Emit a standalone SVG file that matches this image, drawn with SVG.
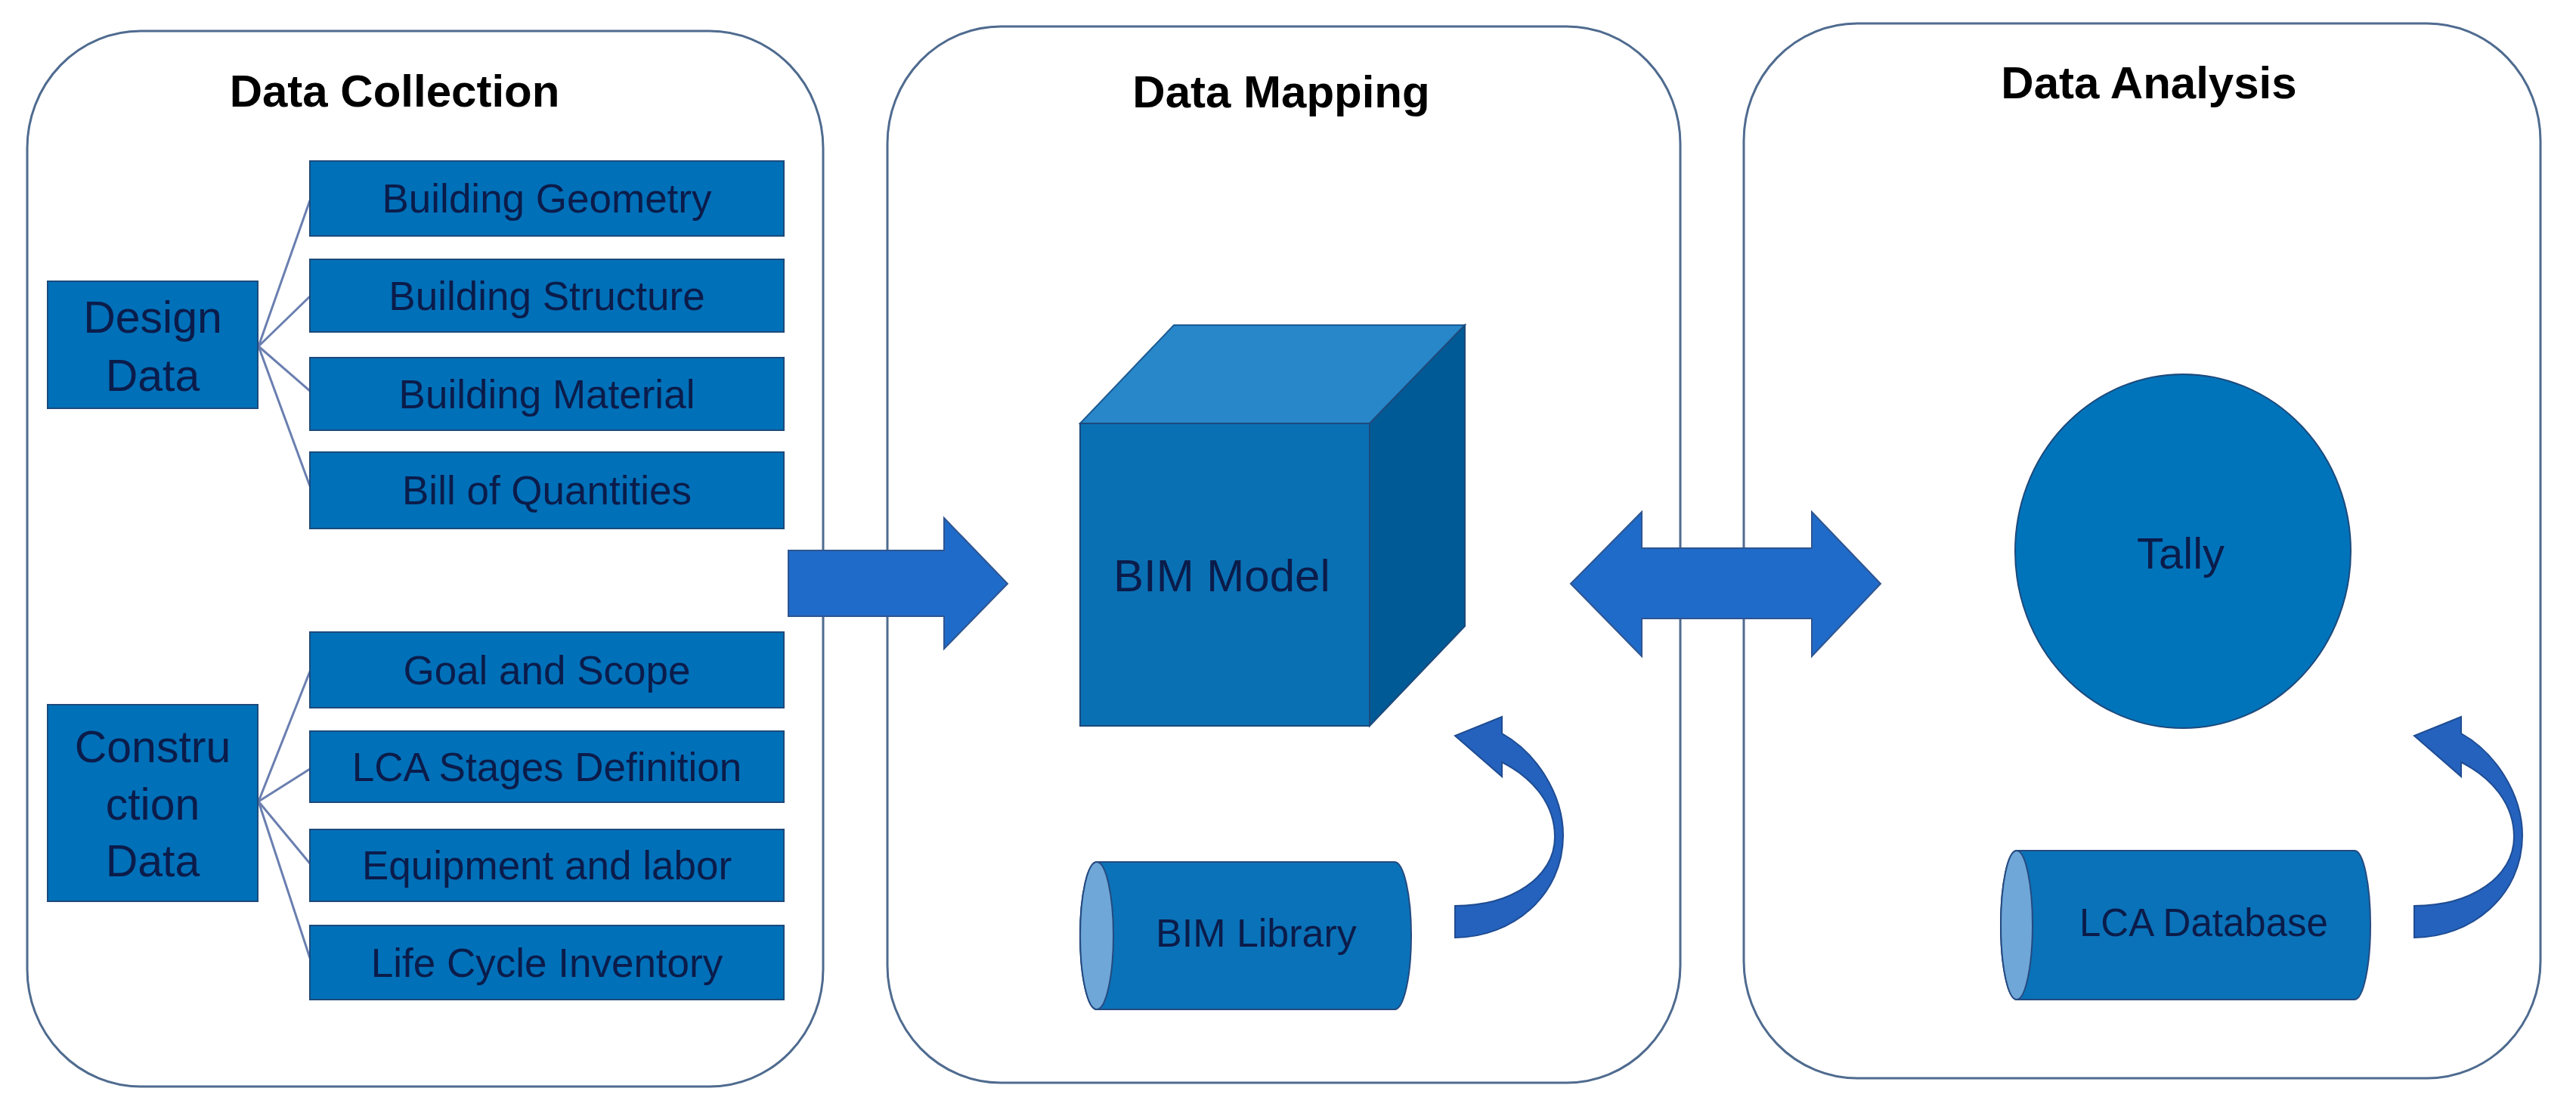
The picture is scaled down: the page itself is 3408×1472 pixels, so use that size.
<svg xmlns="http://www.w3.org/2000/svg" width="3408" height="1472" viewBox="0 0 3408 1472">
<style>
.panel{fill:#ffffff;stroke:#4f6b8f;stroke-width:3}
.title{font-family:"Liberation Sans",Arial,sans-serif;font-weight:bold;font-size:60px;fill:#000000;text-anchor:middle}
.box{fill:#0070b8;stroke:#1d4a7c;stroke-width:2}
.lbl{font-family:"Liberation Sans",Arial,sans-serif;font-size:53px;fill:#0b1c4a;text-anchor:middle}
.big{font-family:"Liberation Sans",Arial,sans-serif;font-size:59px;fill:#0b1c4a;text-anchor:middle}
.link{stroke:#6a7fb0;stroke-width:3;fill:none}
.arrow{fill:#1f6bc9;stroke:#2f5590;stroke-width:2}
.curve{fill:#2462bd;stroke:#1f4c92;stroke-width:2}
.cyl{fill:#0a72b8;stroke:#254a80;stroke-width:2}
.cylface{fill:#6ea7d8;stroke:#254a80;stroke-width:2}
</style>
<rect width="3408" height="1472" fill="#ffffff"/>

<g id="panel-collection">
<rect class="panel" x="36" y="41" width="1053" height="1396" rx="150" ry="155"/>
<text class="title" x="522" y="141">Data Collection</text>
</g>
<g id="panel-mapping">
<rect class="panel" x="1174" y="35" width="1049" height="1397" rx="150" ry="155"/>
<text class="title" x="1695" y="142">Data Mapping</text>
</g>
<g id="panel-analysis">
<rect class="panel" x="2307" y="31" width="1054" height="1395" rx="150" ry="155"/>
<text class="title" x="2843" y="130">Data Analysis</text>
</g>

<g id="connectors">
<line class="link" x1="342" y1="458" x2="410" y2="265"/>
<line class="link" x1="342" y1="458" x2="410" y2="392"/>
<line class="link" x1="342" y1="458" x2="410" y2="517"/>
<line class="link" x1="342" y1="458" x2="410" y2="643"/>
<line class="link" x1="342" y1="1060" x2="410" y2="888"/>
<line class="link" x1="342" y1="1060" x2="410" y2="1017"/>
<line class="link" x1="342" y1="1060" x2="410" y2="1142"/>
<line class="link" x1="342" y1="1060" x2="410" y2="1267"/>
<polygon id="arrow-collect-map" class="arrow" points="1043,728 1249,728 1249,685 1333,772 1249,858 1249,815 1043,815"/>
<polygon id="arrow-map-analysis" class="arrow" points="2078,772 2172,677 2172,725 2397,725 2397,677 2488,772 2397,868 2397,818 2172,818 2172,868"/>
<path id="curve-library-model" class="curve" d="M1925,1240 C2000,1240 2068,1185 2068,1105 C2068,1050 2032,995 1987,970 L1987,948 L1925,973 L1987,1027 L1987,1008 C2030,1030 2057,1065 2057,1107 C2057,1160 2000,1198 1925,1198 Z"/>
<path id="curve-db-tally" class="curve" transform="translate(1269,0)" d="M1925,1240 C2000,1240 2068,1185 2068,1105 C2068,1050 2032,995 1987,970 L1987,948 L1925,973 L1987,1027 L1987,1008 C2030,1030 2057,1065 2057,1107 C2057,1160 2000,1198 1925,1198 Z"/>
</g>

<g id="design-data">
<rect class="box" x="63" y="372" width="278" height="168"/>
<text class="big" x="202" y="440">Design</text>
<text class="big" x="202" y="517">Data</text>
</g>
<g id="building-geometry">
<rect class="box" x="410" y="213" width="627" height="99"/>
<text class="lbl" x="723.5" y="281">Building Geometry</text>
</g>
<g id="building-structure">
<rect class="box" x="410" y="343" width="627" height="96"/>
<text class="lbl" x="723.5" y="410">Building Structure</text>
</g>
<g id="building-material">
<rect class="box" x="410" y="473" width="627" height="96"/>
<text class="lbl" x="723.5" y="540">Building Material</text>
</g>
<g id="bill-of-quantities">
<rect class="box" x="410" y="598" width="627" height="101"/>
<text class="lbl" x="723.5" y="667">Bill of Quantities</text>
</g>

<g id="construction-data">
<rect class="box" x="63" y="932" width="278" height="260"/>
<text class="big" x="202" y="1008">Constru</text>
<text class="big" x="202" y="1084">ction</text>
<text class="big" x="202" y="1159">Data</text>
</g>
<g id="goal-and-scope">
<rect class="box" x="410" y="836" width="627" height="100"/>
<text class="lbl" x="723.5" y="905">Goal and Scope</text>
</g>
<g id="lca-stages">
<rect class="box" x="410" y="967" width="627" height="94"/>
<text class="lbl" x="723.5" y="1033">LCA Stages Definition</text>
</g>
<g id="equipment-labor">
<rect class="box" x="410" y="1097" width="627" height="95"/>
<text class="lbl" x="723.5" y="1163">Equipment and labor</text>
</g>
<g id="life-cycle-inventory">
<rect class="box" x="410" y="1224" width="627" height="98"/>
<text class="lbl" x="723.5" y="1292">Life Cycle Inventory</text>
</g>

<g id="bim-model">
<polygon points="1429,560 1553,430 1938,430 1812,560" fill="#2887c8" stroke="#1d5a94" stroke-width="2"/>
<polygon points="1812,560 1938,430 1938,828 1812,960" fill="#005a96" stroke="#1d4a7c" stroke-width="2"/>
<rect x="1429" y="560" width="383" height="400" fill="#0a70b4" stroke="#1d4a7c" stroke-width="2"/>
<text x="1473" y="782" font-family="'Liberation Sans',Arial,sans-serif" font-size="60" fill="#0b1c4a">BIM Model</text>
</g>

<g id="bim-library">
<path class="cyl" d="M1451,1140 L1845,1140 A22,97.5 0 0 1 1845,1335 L1451,1335 A22,97.5 0 0 1 1451,1140 Z"/>
<ellipse class="cylface" cx="1451" cy="1237.5" rx="22" ry="97.5"/>
<text x="1529" y="1252" font-family="'Liberation Sans',Arial,sans-serif" font-size="52" fill="#0b1c4a">BIM Library</text>
</g>

<g id="tally">
<ellipse cx="2888" cy="729" rx="222" ry="234" fill="#0074bb" stroke="#1d4a7c" stroke-width="2"/>
<text x="2885" y="752" font-family="'Liberation Sans',Arial,sans-serif" font-size="58" fill="#0b1c4a" text-anchor="middle">Tally</text>
</g>

<g id="lca-database">
<path class="cyl" d="M2668,1125 L3115,1125 A21,98.5 0 0 1 3115,1322 L2668,1322 A21,98.5 0 0 1 2668,1125 Z"/>
<ellipse class="cylface" cx="2668" cy="1223.5" rx="21" ry="98.5"/>
<text x="2751" y="1238" font-family="'Liberation Sans',Arial,sans-serif" font-size="51" fill="#0b1c4a">LCA Database</text>
</g>
</svg>
